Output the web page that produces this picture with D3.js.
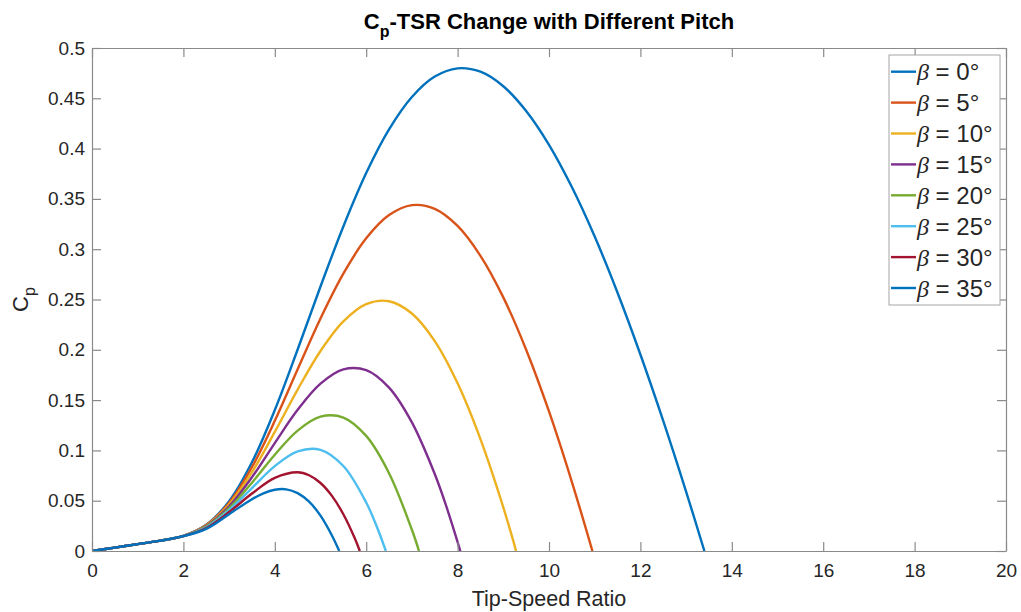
<!DOCTYPE html>
<html>
<head>
<meta charset="utf-8">
<script src="https://cdn.jsdelivr.net/npm/d3@7"></script>
<style>
  html, body { margin: 0; padding: 0; background: #ffffff; }
  svg { display: block; font-family: "Liberation Sans", Arial, Helvetica, sans-serif; }
</style>
</head>
<body>
<svg id="chart" width="1021" height="612"></svg>
<script>
// ---------------- data ----------------
const betas = [0, 5, 10, 15, 20, 25, 30, 35];
const seriesColors = ["#0072BD", "#D95319", "#EDB120", "#7E2F8E", "#77AC30", "#4DBEEE", "#A2142F", "#0072BD"];

const tsr0  = [0,0.5,1,1.5,2,2.5,3,3.5,4,4.5,5,5.5,6,6.5,7,7.5,8,8.5,9,9.5,10,10.5,11,11.5,12,12.5,13,13.4];
const cp0   = [0,0.0034,0.0068,0.0103,0.0151,0.0261,0.0496,0.0882,0.1401,0.2003,0.2629,0.3226,0.3757,0.4191,0.4513,0.4716,0.4798,0.4764,0.4620,0.4374,0.4038,0.3618,0.3126,0.2567,0.1953,0.1293,0.0590,0];

const tsr5  = [0,0.5,1,1.5,2,2.5,3,3.5,4,4.5,5,5.5,6,6.5,7,7.5,8,8.5,9,9.5,10,10.5,10.95];
const cp5   = [0,0.0034,0.0068,0.0103,0.0150,0.0258,0.0479,0.0834,0.1294,0.1806,0.2311,0.2757,0.3108,0.3339,0.3438,0.3401,0.3231,0.2934,0.2521,0.2001,0.1387,0.0688,0];

const tsr10 = [0,0.5,1,1.5,2,2.5,3,3.5,4,4.5,5,5.5,6,6.5,7,7.5,8,8.5,9,9.28];
const cp10  = [0,0.0034,0.0068,0.0103,0.0150,0.0254,0.0462,0.0783,0.1184,0.1605,0.1988,0.2282,0.2454,0.2483,0.2361,0.2087,0.1667,0.1112,0.0434,0];

const tsr15 = [0,0.5,1,1.5,2,2.5,3,3.5,4,4.5,5,5.5,6,6.5,7,7.5,7.75,8.06];
const cp15  = [0,0.0034,0.0068,0.0103,0.0150,0.0249,0.0444,0.0733,0.1073,0.1403,0.1663,0.1805,0.1798,0.1624,0.1278,0.0765,0.0448,0];

const tsr20 = [0,0.5,1,1.5,2,2.5,3,3.5,4,4.5,5,5.5,6,6.5,7,7.155];
const cp20  = [0,0.0034,0.0068,0.0103,0.0149,0.0243,0.0425,0.0679,0.0957,0.1197,0.1335,0.1327,0.1144,0.0773,0.0211,0];

const tsr25 = [0,0.5,1,1.5,2,2.5,3,3.5,4,4.5,5,5.5,6,6.25,6.43];
const cp25  = [0,0.0034,0.0068,0.0103,0.0149,0.0236,0.0407,0.0626,0.0844,0.0991,0.1006,0.0845,0.0482,0.0221,0];

const tsr30 = [0,0.5,1,1.5,2,2.5,3,3.5,4,4.5,4.75,5,5.25,5.5,5.75,5.86];
const cp30  = [0,0.0034,0.0068,0.0103,0.0148,0.0228,0.0387,0.0571,0.0727,0.0783,0.0753,0.0676,0.0548,0.0365,0.0126,0];

const tsr35 = [0,0.5,1,1.5,2,2.5,3,3.5,3.75,4,4.25,4.5,4.75,5,5.25,5.41];
const cp35  = [0,0.0034,0.0068,0.0103,0.0147,0.0220,0.0366,0.0515,0.0573,0.0609,0.0613,0.0575,0.0490,0.0351,0.0154,0];

const xTicks = [0,2,4,6,8,10,12,14,16,18,20];
const xTickLabels = ["0","2","4","6","8","10","12","14","16","18","20"];
const yTicks = [0,0.05,0.1,0.15,0.2,0.25,0.3,0.35,0.4,0.45,0.5];
const yTickLabels = ["0","0.05","0.1","0.15","0.2","0.25","0.3","0.35","0.4","0.45","0.5"];

const titleMain = "C";
const titleSub = "p";
const titleRest = "-TSR Change with Different Pitch";
const xLabel = "Tip-Speed Ratio";

// ---------------- build series ----------------
const tsrs = [tsr0, tsr5, tsr10, tsr15, tsr20, tsr25, tsr30, tsr35];
const cps  = [cp0, cp5, cp10, cp15, cp20, cp25, cp30, cp35];
const series = betas.map((b, i) => ({
  beta: b,
  color: seriesColors[i],
  points: tsrs[i].map((t, j) => [t, cps[i][j]])
}));

// ---------------- layout ----------------
const L = 92, R = 1006, T = 48, B = 551;
const svg = d3.select("#chart");
const x = d3.scaleLinear().domain([0, 20]).range([L, R]);
const y = d3.scaleLinear().domain([0, 0.5]).range([B, T]);

const axisColor = "#8a8a8a";
const textColor = "#262626";

svg.append("rect").attr("x", L).attr("y", T).attr("width", R - L).attr("height", B - T).attr("fill", "#ffffff");

svg.append("defs").append("clipPath").attr("id", "plotclip")
  .append("rect").attr("x", L).attr("y", T - 2).attr("width", R - L).attr("height", B - T + 2);

// curves
const line = d3.line()
  .x(d => x(d[0]))
  .y(d => y(d[1]))
  .curve(d3.curveCatmullRom.alpha(0.5));

const gLines = svg.append("g").attr("clip-path", "url(#plotclip)");
gLines.selectAll("path")
  .data(series)
  .join("path")
  .attr("d", d => line(d.points))
  .attr("fill", "none")
  .attr("stroke", d => d.color)
  .attr("stroke-width", 2.4)
  .attr("stroke-linejoin", "round")
  .attr("stroke-linecap", "butt");

// axes
function styleAxis(g) {
  g.selectAll(".domain").attr("stroke", axisColor).attr("stroke-width", 1.2);
  g.selectAll(".tick line").attr("stroke", axisColor).attr("stroke-width", 1.2);
  g.selectAll(".tick text").attr("fill", textColor)
    .style("font-family", "'Liberation Sans', Arial, sans-serif")
    .style("font-size", "19px");
}

const xAxis = svg.append("g").attr("transform", `translate(0,${B})`)
  .call(d3.axisBottom(x).tickValues(xTicks).tickSizeInner(-9).tickSizeOuter(0).tickPadding(13)
    .tickFormat((d, i) => xTickLabels[i]));
styleAxis(xAxis);

const xAxisTop = svg.append("g").attr("transform", `translate(0,${T})`)
  .call(d3.axisTop(x).tickValues(xTicks).tickSizeInner(-9).tickSizeOuter(0).tickFormat(""));
styleAxis(xAxisTop);

const yAxis = svg.append("g").attr("transform", `translate(${L},0)`)
  .call(d3.axisLeft(y).tickValues(yTicks).tickSizeInner(-9).tickSizeOuter(0).tickPadding(7)
    .tickFormat((d, i) => yTickLabels[i]));
styleAxis(yAxis);

const yAxisRight = svg.append("g").attr("transform", `translate(${R},0)`)
  .call(d3.axisRight(y).tickValues(yTicks).tickSizeInner(-9).tickSizeOuter(0).tickFormat(""));
styleAxis(yAxisRight);

// title
const title = svg.append("text")
  .attr("x", (L + R) / 2).attr("y", 29)
  .attr("text-anchor", "middle")
  .attr("fill", "#000000")
  .style("font-weight", "bold")
  .style("font-size", "22px");
title.append("tspan").text(titleMain);
title.append("tspan").attr("dy", 8).style("font-size", "16px").text(titleSub);
title.append("tspan").attr("dy", -8).text(titleRest);

// x label
svg.append("text")
  .attr("x", (L + R) / 2).attr("y", 606)
  .attr("text-anchor", "middle")
  .attr("fill", textColor)
  .style("font-size", "21.5px")
  .text(xLabel);

// y label
const yl = svg.append("text")
  .attr("transform", `translate(28,${(T + B) / 2}) rotate(-90)`)
  .attr("text-anchor", "middle")
  .attr("fill", textColor)
  .style("font-size", "22px");
yl.append("tspan").text("C");
yl.append("tspan").attr("dy", 7).style("font-size", "16px").text("p");

// legend
const legX = 889, legY = 55, legW = 111, legH = 250, rowH = 30.9, firstRow = 71.7;
const leg = svg.append("g");
leg.append("rect")
  .attr("x", legX).attr("y", legY).attr("width", legW).attr("height", legH)
  .attr("fill", "#ffffff").attr("stroke", "#a6a6a6").attr("stroke-width", 1);

const rows = leg.selectAll("g.row").data(series).join("g").attr("class", "row")
  .attr("transform", (d, i) => `translate(0,${firstRow + i * rowH})`);
rows.append("line")
  .attr("x1", 891).attr("x2", 916).attr("y1", 0).attr("y2", 0)
  .attr("stroke", d => d.color).attr("stroke-width", 2.4);
const lt = rows.append("text")
  .attr("x", 917).attr("y", 8.5)
  .attr("fill", textColor)
  .style("font-size", "24px");
lt.append("tspan")
  .style("font-family", "'Liberation Serif', 'Times New Roman', serif")
  .style("font-style", "italic")
  .text("β");
lt.append("tspan").text(d => ` = ${d.beta}°`);
</script>
</body>
</html>
